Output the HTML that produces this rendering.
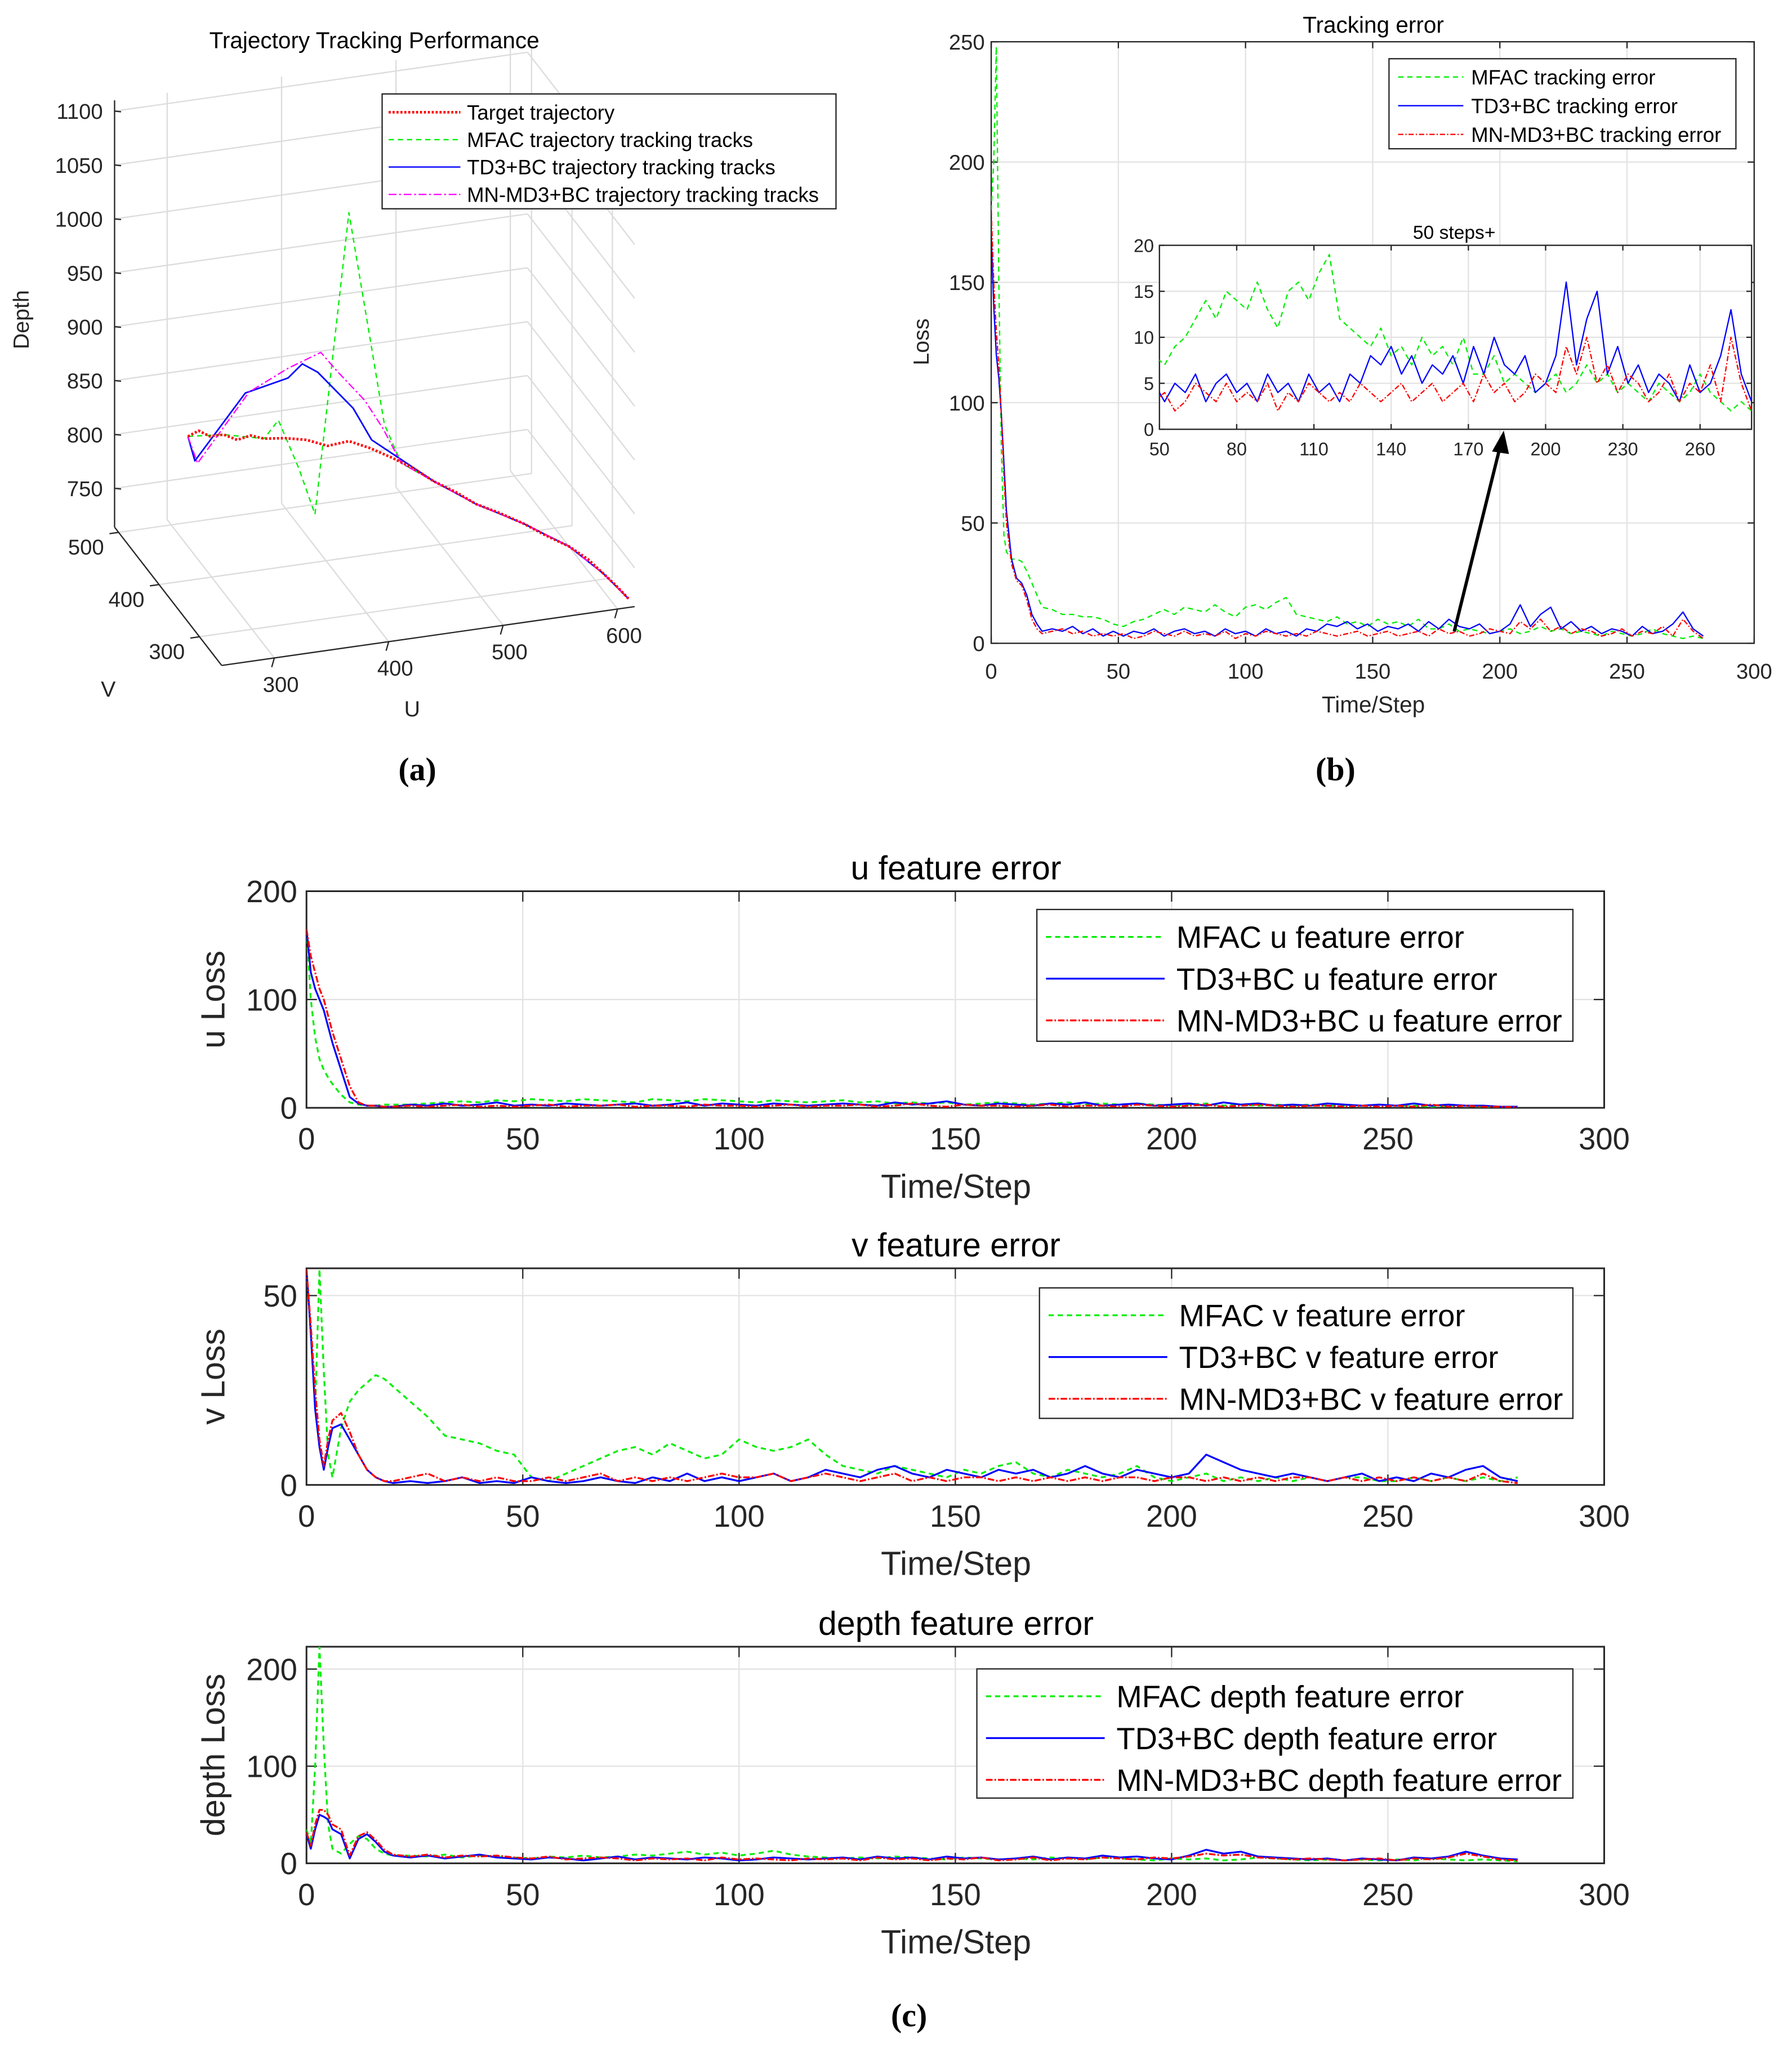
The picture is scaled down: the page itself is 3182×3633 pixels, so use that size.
<!DOCTYPE html>
<html><head><meta charset="utf-8"><style>
html,body{margin:0;padding:0;background:#fff;}
svg{display:block;font-family:"Liberation Sans",Arial,sans-serif;}
</style></head><body>
<svg id="fig" xmlns="http://www.w3.org/2000/svg" width="3182" height="3633" viewBox="0 0 1374 1568" preserveAspectRatio="none"></svg>
<script>
// ---------- DATA ----------
// panel (a) 3D trajectories
const tgtU=[304,312,320,330,340,350,360,375,390,405,420,435,450,465,480,495,510,527,545,560,577,590,600,608,615];
const tgtV=[470,466,461,455,450,445,440,430,420,410,400,390,380,370,360,350,340,330,320,310,300,290,280,270,260];
const tgtD=[810,816,812,815,811,816,814,817,818,815,822,818,812,805,795,788,779,773,765,757,749,740,730,722,714];
const mfacU=[304,330,360,370,385,396,420,445,457,480,510,545,577,600,615];
const mfacV=[470,455,440,433,425,416,400,383,375,360,340,320,300,280,260];
const mfacD=[810,815,814,833,790,750,1034,842,808,795,779,765,749,730,714];
const td3U=[304,309,346,377,387,398,423,436,466,480,510,545,577,600,615];
const td3V=[470,467,447,429,422,415,398,389,369,360,340,320,300,280,260];
const td3D=[810,788,855,873,888,882,853,826,805,795,779,765,749,730,714];
const mnU=[304,311,349,377,400,412,431,444,457,480,510,545,577,600,615];
const mnV=[470,466,446,429,413,405,392,384,375,360,340,320,300,280,260];
const mnD=[810,786,856,882,901,885,862,838,808,795,779,765,749,730,714];
const aDepthTicks=[750,800,850,900,950,1000,1050,1100];
const aUTicks=[300,400,500,600];
const aVTicks=[300,400,500];

// time steps
const steps=[0,1,2,3,4,5,6,8,10,12,14,16,18,20,24,28,32,36,40,44,48,52,56,60,64,68,72,76,80,84,88,92,96,100,104,108,112,116,120,124,128,132,136,140,144,148,152,156,160,164,168,172,176,180,184,188,192,196,200,204,208,212,216,220,224,228,232,236,240,244,248,252,256,260,264,268,272,276,280];

// panel (b) tracking error
const mfacT=[180,200,248,150,80,45,38,35,35,34,30,25,20,15, 14,12,12,11,11,10,8, 7,9,10,12,14,12,15,14, 13,16,13,11,15,16,14,17,19,12, 11,10,9,11,8,9,7,10,8,9, 7,10,6,6,8,5,6,5,4,5, 6,4,5,7,5,6,4,5,4,3, 5,4,3,4,6,4,3,2,3,2];
const td3T=[170,140,120,110,95,75,55,35,27,25,20,12,8,5, 6,5,7,4,6,3,5, 3,5,4,6,3,5,6,4, 5,3,6,4,5,3,6,4,5,3, 6,5,8,7,9,6,8,5,7,6, 8,5,9,6,10,7,6,8,4,5, 8,16,7,12,15,6,9,5,7,4, 6,5,3,7,4,5,8,13,6,3];
const mnT=[180,150,130,115,95,70,50,33,26,24,18,10,6,4, 5,6,4,5,3,4,3, 4,2,3,5,4,3,5,3, 4,3,5,2,4,3,5,4,3,4, 3,5,4,3,4,5,3,4,5,3, 4,5,3,6,4,5,3,4,6,5, 4,9,6,10,5,7,4,6,5,3, 4,6,3,5,4,7,3,10,5,2];
const bXTicks=[0,50,100,150,200,250,300];
const bYTicks=[0,50,100,150,200,250];
const insXTicks=[50,80,110,140,170,200,230,260];
const insYTicks=[0,5,10,15,20];

// panel (c)
const mfacUerr=[165,100,65,45,35,28,22,12,5,3,2,2,3,3, 3,4,5,6,5,7,6, 8,7,6,8,7,6,5,8, 7,6,8,7,6,5,7,6,5,6, 7,5,6,4,5,4,5,3,4,5, 4,3,4,5,3,4,3,4,3,2, 3,4,2,3,2,3,2,3,2,2, 2,3,2,2,1,2,2,1,1,1];
const td3Uerr=[165,125,110,100,90,75,60,35,10,4,2,2,1,1, 3,2,4,2,3,5,2, 3,2,4,3,2,3,4,2, 3,5,2,4,3,2,4,3,2,3, 4,3,2,5,3,4,6,3,2,4, 3,2,4,3,5,2,3,4,2,3, 4,2,5,3,4,2,3,2,4,3, 2,3,2,4,2,3,2,2,1,1];
const mnUerr=[165,140,125,110,100,85,70,45,20,5,2,2,1,1, 2,1,2,3,1,2,1, 2,3,1,2,2,3,1,2, 2,1,3,2,2,1,2,3,1,2, 2,3,1,2,4,2,1,3,2,2, 1,2,3,1,2,2,1,3,2,1, 2,3,1,2,3,2,1,2,2,1, 2,1,2,1,3,1,2,1,1,0.5];
const mfacVerr=[57,40,20,57,30,8,2,15,22,25,27,29,28,26, 22,18,13,12,11,9,8, 2,1,3,5,7,9,10,8, 11,9,7,8,12,10,9,10,12,8, 5,4,3,5,4,3,2,4,3,5, 6,3,2,4,3,2,3,5,2,1, 2,3,1,2,1,2,1,2,1,2, 2,1,1,2,1,2,1,2,1,2];
const td3Verr=[57,40,20,10,4,10,15,16,12,8,4,2,1,0.5, 1,0.5,1,2,0.5,1,0.5, 2,1,0.5,1,2,1,0.5,2, 1,3,1,2,1,2,3,1,2,4, 3,2,4,5,3,2,4,3,2,4, 3,4,2,3,5,3,2,4,3,2, 3,8,6,4,3,2,3,2,1,2, 3,1,2,1,3,2,4,5,2,1];
const mnVerr=[57,42,25,12,5,12,17,19,14,8,4,2,1,1, 2,3,1,2,1,2,1, 1,2,1,2,3,1,2,1, 2,1,2,3,2,2,3,1,2,3, 2,1,2,3,1,2,1,2,2,1, 2,1,2,1,2,1,2,2,1,2, 2,1,2,1,2,1,2,2,1,2, 1,2,1,2,1,2,1,3,1,0.5];
const mfacDerr=[35,20,100,223,120,40,15,10,20,28,25,15,10,8, 8,7,9,6,8,7,6, 5,7,6,8,6,7,9,8, 10,12,9,11,8,10,13,9,7,6, 5,6,5,7,6,5,4,6,5,4, 5,4,6,5,4,6,5,4,3,5, 4,5,3,4,6,5,4,3,4,3, 4,3,4,3,5,4,3,4,3,2];
const td3Derr=[30,15,35,50,48,45,35,30,5,25,30,22,12,8, 6,8,5,7,9,6,5, 4,6,5,3,5,7,4,6, 5,4,6,5,3,4,6,5,4,5, 6,4,7,5,6,4,7,5,6,4, 5,7,4,6,5,8,6,7,5,4, 8,14,10,12,7,6,5,4,5,3, 5,4,3,6,5,7,12,8,5,4];
const mnDerr=[32,18,40,55,55,50,40,35,8,28,32,24,14,9, 7,9,6,8,7,8,6, 5,7,4,5,6,5,3,5, 4,5,3,6,4,5,4,3,5,4, 5,3,6,4,5,3,5,4,6,3, 4,6,3,5,4,6,5,4,6,5, 7,10,8,9,6,5,4,5,4,3, 4,5,3,5,4,6,10,7,4,3];
const cXTicks=[0,50,100,150,200,250,300];
const uYTicks=[0,100,200];
const vYTicks=[0,50];
const dYTicks=[0,100,200];

// ---------- HELPERS ----------
const NS="http://www.w3.org/2000/svg";
const svg=document.getElementById('fig');
function el(tag,attrs,parent){const e=document.createElementNS(NS,tag);for(const k in attrs)e.setAttribute(k,attrs[k]);(parent||svg).appendChild(e);return e;}
function txt(x,y,s,size,name,anchor,extra){
  const t=el('text',Object.assign({x:x,y:y,'font-size':size,'text-anchor':anchor||'middle',fill:'#262626'},extra||{}));
  t.textContent=s;
  
  
  return t;
}
function poly(pts,color,dash,w,name,parent,clip){
  const d=pts.map((p,i)=>(i?'L':'M')+p[0].toFixed(2)+' '+p[1].toFixed(2)).join('');
  const a={d:d,fill:'none',stroke:color,'stroke-width':w,'stroke-linejoin':'round'};
  if(dash)a['stroke-dasharray']=dash;
  if(clip)a['clip-path']='url(#'+clip+')';
  const p=el('path',a,parent);
  
  
  return p;
}
const defs=el('defs',{});
function clipRect(id,x,y,w,h){const c=el('clipPath',{id:id},defs);el('rect',{x:x,y:y,width:w,height:h},c);}

const DASH_G='4,3', DASH_MN='6,2,1.5,2';

// 2D axes
function axes2d(o){
  const sx=v=>o.x0+(v-o.xmin)/(o.xmax-o.xmin)*(o.x1-o.x0);
  const sy=v=>o.y1-(v-o.ymin)/(o.ymax-o.ymin)*(o.y1-o.y0);
  const g=el('g',{});
  
  
  el('rect',{x:o.x0,y:o.y0,width:o.x1-o.x0,height:o.y1-o.y0,fill:'#fff'},g);
  o.xt.forEach(v=>{const l=el('line',{x1:sx(v),x2:sx(v),y1:o.y0,y2:o.y1,stroke:'#e3e3e3','stroke-width':1},g);
    });
  o.yt.forEach(v=>{const l=el('line',{x1:o.x0,x2:o.x1,y1:sy(v),y2:sy(v),stroke:'#e3e3e3','stroke-width':1},g);
    });
  const tl=o.tick||5;
  const xo=o.xoff||(o.fs*1.05+2);
  o.xt.forEach(v=>{el('line',{x1:sx(v),x2:sx(v),y1:o.y1,y2:o.y1-tl,stroke:'#262626','stroke-width':1},g);el('line',{x1:sx(v),x2:sx(v),y1:o.y0,y2:o.y0+tl,stroke:'#262626','stroke-width':1},g);
    txt(sx(v),o.y1+xo,String(v),o.fs,'x-tick-label');});
  o.yt.forEach(v=>{el('line',{x1:o.x0,x2:o.x0+tl,y1:sy(v),y2:sy(v),stroke:'#262626','stroke-width':1},g);el('line',{x1:o.x1,x2:o.x1-tl,y1:sy(v),y2:sy(v),stroke:'#262626','stroke-width':1},g);
    txt(o.x0-o.fs*0.3,sy(v)+o.fs*0.36,String(v),o.fs,'y-tick-label','end');});
  const b=el('rect',{x:o.x0,y:o.y0,width:o.x1-o.x0,height:o.y1-o.y0,fill:'none',stroke:'#262626','stroke-width':o.bw||1},g);
  
  
  clipRect(o.name+'-clip',o.x0,o.y0,o.x1-o.x0,o.y1-o.y0);
  return {sx,sy,g,clip:o.name+'-clip'};
}
function series(ax,xs,ys,color,dash,w,name){
  const pts=xs.map((x,i)=>[ax.sx(x),ax.sy(ys[i])]);
  return poly(pts,color,dash,w,name,ax.g,ax.clip);
}
function legend(x0,y0,x1,y1,lx0,lx1,tx,ys,entries,fs,name,lw){
  const g=el('g',{});
  
  
  const r=el('rect',{x:x0,y:y0,width:x1-x0,height:y1-y0,fill:'#fff',stroke:'#262626','stroke-width':1},g);
  
  
  entries.forEach((e,i)=>{
    poly([[lx0,ys[i]],[lx1,ys[i]]],e[1],e[2],e[3]||lw,'legend-swatch',g);
    const t=txt(tx,ys[i]+fs*0.36,e[0],fs,'legend-entry','start',{fill:'#000'});
    g.appendChild(t);
  });
}
const LBL={fill:'#000','font-family':'"Liberation Serif",serif','font-weight':'bold'};

// ---------- PANEL (a) ----------
(function(){
  const UMIN=254,UMAX=615,VMIN=245,VMAX=510,DMIN=714,DMAX=1110;
  const P=(u,v,d)=>[170+0.877*(u-UMIN)-0.31*(v-VMIN), 510-0.125*(u-UMIN)-0.4*(v-VMIN)-0.826*(d-DMIN)];
  const g=el('g',{});
  
  
  const gl=(a,b,name,c,w)=>{const l=el('line',{x1:a[0],y1:a[1],x2:b[0],y2:b[1],stroke:c||'#dcdcdc','stroke-width':w||1},g);};
  aUTicks.forEach(u=>gl(P(u,VMAX,DMIN),P(u,VMAX,DMAX),'back-wall-gridline'));
  aDepthTicks.forEach(d=>gl(P(UMIN,VMAX,d),P(UMAX,VMAX,d),'back-wall-gridline'));
  aVTicks.forEach(v=>gl(P(UMAX,v,DMIN),P(UMAX,v,DMAX),'side-wall-gridline'));
  aDepthTicks.forEach(d=>gl(P(UMAX,VMAX,d),P(UMAX,VMIN,d),'side-wall-gridline'));
  aUTicks.forEach(u=>gl(P(u,VMIN,DMIN),P(u,VMAX,DMIN),'floor-gridline'));
  aVTicks.forEach(v=>gl(P(UMIN,v,DMIN),P(UMAX,v,DMIN),'floor-gridline'));
  gl(P(UMIN,VMAX,DMIN),P(UMIN,VMAX,DMAX),'depth-axis','#262626',1);
  gl(P(UMIN,VMAX,DMIN),P(UMIN,VMIN,DMIN),'v-axis','#262626',1);
  gl(P(UMIN,VMIN,DMIN),P(UMAX,VMIN,DMIN),'u-axis','#262626',1);
  aDepthTicks.forEach(d=>{const p=P(UMIN,VMAX,d);gl(p,[p[0]+5,p[1]+0.5],'depth-tick','#262626');txt(p[0]-9,p[1]+6,String(d),16.5,'depth-tick-label','end');});
  aVTicks.forEach(v=>{const p=P(UMIN,v,DMIN);gl(p,[p[0]-7,p[1]+1],'v-tick','#262626');txt(p[0]-25,p[1]+17,String(v),16.5,'v-tick-label','middle');});
  aUTicks.forEach(u=>{const p=P(u,VMIN,DMIN);gl(p,[p[0]-2,p[1]+7],'u-tick','#262626');txt(p[0]+5,p[1]+26,String(u),16.5,'u-tick-label','middle');});
  txt(287,37,'Trajectory Tracking Performance',17.5,'panel-a-title','middle',{fill:'#000'});
  txt(22,245,'Depth',17,'depth-axis-title','middle',{transform:'rotate(-90 22 245)'});
  txt(83,534,'V',17,'v-axis-title');
  txt(316,549,'U',17,'u-axis-title');
  const pr=(us,vs,ds)=>us.map((u,i)=>P(u,vs[i],ds[i]));
  poly(pr(mfacU,mfacV,mfacD),'#00ee00',DASH_G,1,'mfac-3d-track',g);
  poly(pr(td3U,td3V,td3D),'#0000ff',null,1.2,'td3bc-3d-track',g);
  poly(pr(mnU,mnV,mnD),'#ff00ff',DASH_MN,1,'mnmd3bc-3d-track',g);
  poly(pr(tgtU,tgtV,tgtD),'#ff0000','1.6,1.4',2,'target-3d-trajectory',g);
  legend(293,72,641,160,298,353,358,[86,107,128,149],[
    ['Target trajectory','#ff0000','1.6,1.4',2],
    ['MFAC trajectory tracking tracks','#00ee00',DASH_G],
    ['TD3+BC trajectory tracking tracks','#0000ff',null],
    ['MN-MD3+BC trajectory tracking tracks','#ff00ff',DASH_MN]],15.8,'panel-a-legend',1);
  txt(320,598,'(a)',25,'panel-a-label','middle',LBL);
})();

// ---------- PANEL (b) ----------
(function(){
  const ax=axes2d({name:'panel-b-axes',x0:760,x1:1345,y0:32,y1:493,xmin:0,xmax:300,ymin:0,ymax:250,xt:bXTicks,yt:bYTicks,fs:16.5,xoff:27});
  series(ax,steps,mfacT,'#00ee00',DASH_G,1,'mfac-tracking-error');
  series(ax,steps,td3T,'#0000ff',null,1,'td3bc-tracking-error');
  series(ax,steps,mnT,'#ff0000','4,1.5,1,1.5',1,'mnmd3bc-tracking-error');
  txt(1053,25,'Tracking error',17.5,'panel-b-title','middle',{fill:'#000'});
  txt(712,262,'Loss',17,'panel-b-y-title','middle',{transform:'rotate(-90 712 262)'});
  txt(1053,546,'Time/Step',17.5,'panel-b-x-title');
  legend(1065,45,1331,114,1072,1122,1128,[59,81,103],[
    ['MFAC tracking error','#00ee00',DASH_G],
    ['TD3+BC tracking error','#0000ff',null],
    ['MN-MD3+BC tracking error','#ff0000','4,1.5,1,1.5']],15.8,'panel-b-legend',1);
  const ins=axes2d({name:'panel-b-inset',x0:889,x1:1343,y0:188,y1:329,xmin:50,xmax:280,ymin:0,ymax:20,xt:insXTicks,yt:insYTicks,fs:14,tick:4,xoff:20});
  series(ins,steps,mfacT,'#00ee00',DASH_G,1,'inset-mfac-error');
  series(ins,steps,td3T,'#0000ff',null,1,'inset-td3bc-error');
  series(ins,steps,mnT,'#ff0000','4,1.5,1,1.5',1,'inset-mnmd3bc-error');
  txt(1115,183,'50 steps+',14.5,'inset-title','middle',{fill:'#000'});
  const a=el('line',{x1:1115,y1:484,x2:1150,y2:343,stroke:'#000','stroke-width':2.5});
  
  
  const h=el('path',{d:'M1153,330 L1144,346 L1157,348 Z',fill:'#000'});
  
  
  txt(1024,598,'(b)',25,'panel-b-label','middle',LBL);
})();

// ---------- PANEL (c) ----------
function cPlot(name,y0,y1,ymax,yt,title,ylab,a,b,c,labels,lg){
  const ax=axes2d({name:name,x0:235,x1:1230,y0:y0,y1:y1,xmin:0,xmax:300,ymin:0,ymax:ymax,xt:cXTicks,yt:yt,fs:23.5,tick:8,bw:1.3,xoff:32});
  series(ax,steps,a,'#00ee00',DASH_G,1.4,name+'-mfac');
  series(ax,steps,b,'#0000ff',null,1.4,name+'-td3bc');
  series(ax,steps,c,'#ff0000','5,1.5,1.2,1.5',1.4,name+'-mnmd3bc');
  txt(733,y0-9,title,25.5,name+'-title','middle',{fill:'#000'});
  const cy=(y0+y1)/2;
  txt(172,cy,ylab,25.5,name+'-y-title','middle',{transform:'rotate(-90 172 '+cy+')'});
  txt(733,y1+69,'Time/Step',25.5,name+'-x-title');
  legend(lg[0],lg[1],1206,lg[2],lg[0]+7,lg[0]+98,lg[0]+107,[lg[1]+21,lg[1]+53,lg[1]+85],[
    [labels[0],'#00ee00',DASH_G],[labels[1],'#0000ff',null],[labels[2],'#ff0000','5,1.5,1.2,1.5']],23.5,name+'-legend',1.4);
}
cPlot('u-feature-plot',683,849,200,uYTicks,'u feature error','u Loss',mfacUerr,td3Uerr,mnUerr,
  ['MFAC u feature error','TD3+BC u feature error','MN-MD3+BC u feature error'],[795,697,798]);
cPlot('v-feature-plot',972,1138,57.2,vYTicks,'v feature error','v Loss',mfacVerr,td3Verr,mnVerr,
  ['MFAC v feature error','TD3+BC v feature error','MN-MD3+BC v feature error'],[797,987,1087]);
cPlot('depth-feature-plot',1262,1428,223,dYTicks,'depth feature error','depth Loss',mfacDerr,td3Derr,mnDerr,
  ['MFAC depth feature error','TD3+BC depth feature error','MN-MD3+BC depth feature error'],[749,1279,1378]);
txt(697,1553,'(c)',25,'panel-c-label','middle',LBL);
</script>
</body></html>
